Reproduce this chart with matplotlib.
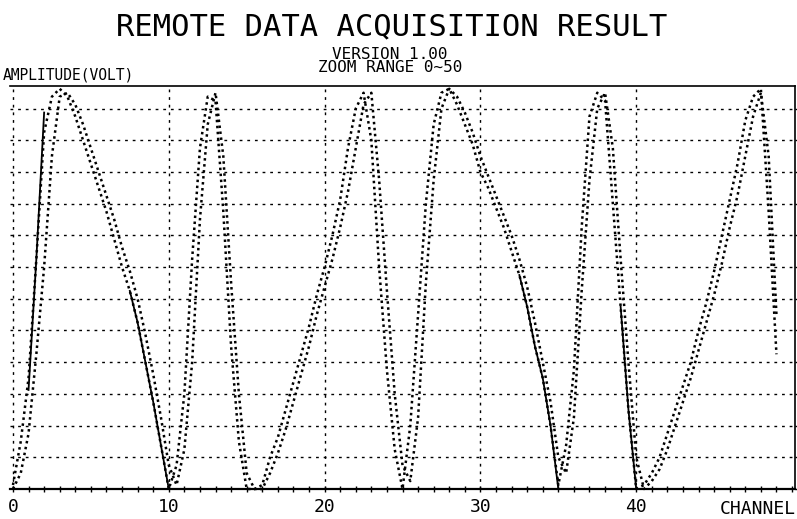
import numpy as np
import matplotlib
matplotlib.use("Agg")
import matplotlib.pyplot as plt
from matplotlib.ticker import MultipleLocator, FixedLocator

# Sample positions (half-channel steps) and the two scanned amplitude traces
channel = np.arange(0, 49.5, 0.5)

trace_a = [
    0.05, 0.6, 1.4, 2.9, 4.5, 4.95, 5.05, 4.95, 4.7, 4.4,
    4.1, 3.8, 3.5, 3.15, 2.8, 2.5, 2.1, 1.6, 1.1, 0.55,
    0.0, 0.3, 1.2, 2.9, 4.3, 4.95, 4.9, 3.5, 1.8, 0.6,
    0.0, 0.0, 0.05, 0.4, 0.65, 1.0, 1.35, 1.7, 2.05, 2.45,
    2.8, 3.2, 3.65, 4.3, 4.8, 5.0, 4.4, 2.8, 1.5, 0.5,
    0.0, 0.8, 2.2, 3.6, 4.6, 5.0, 5.05, 4.85, 4.6, 4.35,
    4.0, 3.8, 3.55, 3.3, 3.0, 2.7, 2.3, 1.8, 1.4, 0.8,
    0.05, 0.55, 1.5, 3.3, 4.7, 5.0, 4.9, 3.6, 2.3, 1.0,
    0.0, 0.05, 0.2, 0.4, 0.7, 1.0, 1.3, 1.6, 2.0, 2.35,
    2.75, 3.2, 3.65, 4.1, 4.65, 4.95, 5.05, 3.5, 1.7,
]

trace_b = [
    0.0, 0.2, 0.7, 1.7, 2.8, 4.2, 4.95, 5.0, 4.85, 4.6,
    4.3, 4.0, 3.7, 3.4, 3.05, 2.75, 2.4, 1.95, 1.45, 0.9,
    0.3, 0.05, 0.5, 1.6, 3.4, 4.6, 5.0, 4.2, 2.6, 1.2,
    0.2, 0.0, 0.0, 0.2, 0.45, 0.75, 1.1, 1.45, 1.8, 2.2,
    2.55, 2.9, 3.3, 3.75, 4.3, 4.85, 5.0, 3.9, 2.5, 1.2,
    0.3, 0.1, 0.9, 2.6, 3.9, 4.8, 5.05, 4.95, 4.75, 4.5,
    4.2, 3.95, 3.7, 3.45, 3.2, 2.9, 2.55, 2.1, 1.6, 1.1,
    0.4, 0.2, 0.9, 2.5, 3.9, 4.8, 5.0, 4.3, 2.9, 1.6,
    0.4, 0.0, 0.1, 0.25, 0.5, 0.8, 1.1, 1.4, 1.75, 2.1,
    2.45, 2.85, 3.3, 3.7, 4.2, 4.7, 5.0, 4.2, 2.2,
]

# Continuous (solid) pen segments of the plotter trace; NaN separates segments
nan = np.nan
solid_channel = [1.0, 1.5, 2.0, nan,
                 7.5, 8.0, 8.5, 9.0, 9.5, 10.0, nan,
                 32.5, 33.0, 33.5, 34.0, 34.5, 35.0, nan,
                 39.0, 39.5, 40.0]
solid_value = [1.25, 2.9, 4.75, nan,
               2.5, 2.1, 1.6, 1.1, 0.55, 0.0, nan,
               2.7, 2.3, 1.8, 1.4, 0.8, 0.0, nan,
               2.3, 1.0, 0.0]

x_ticks = [0, 10, 20, 30, 40]
x_tick_labels = ["0", "10", "20", "30", "40"]

title = "REMOTE DATA ACQUISITION RESULT"
subtitle = "VERSION 1.00\nZOOM RANGE 0~50"
y_label = "AMPLITUDE(VOLT)"
x_label = "CHANNEL"

MONO = "DejaVu Sans Mono"
W, H = 797, 519

fig = plt.figure(figsize=(W / 100, H / 100), dpi=100)
fig.patch.set_facecolor("white")
ax = fig.add_axes([10 / W, 1 - 489 / H, 785 / W, (489 - 86) / H])
ax.set_xlim(-0.19, 50.19)
ax.set_ylim(0, 5.085)

grid_style = dict(color="black", linewidth=1.0, linestyle=(0, (2, 3.5)))

# Horizontal grid every 0.4 V
ax.yaxis.set_major_locator(MultipleLocator(0.4))
ax.grid(axis="y", **grid_style)
ax.tick_params(axis="y", left=False, right=True, labelleft=False,
               direction="out", length=2.5, width=1.0)

# Channel axis: labelled every 10, crossing ticks every channel
ax.xaxis.set_major_locator(FixedLocator(x_ticks))
ax.set_xticklabels(x_tick_labels, fontfamily=MONO, fontsize=13)
ax.xaxis.set_minor_locator(MultipleLocator(1))
ax.grid(axis="x", which="major", **grid_style)
ax.tick_params(axis="x", which="both", direction="inout", length=5,
               width=1.0, pad=4)

for side in ("top", "right"):
    ax.spines[side].set_linewidth(1.2)
ax.spines["bottom"].set_linewidth(1.6)
ax.spines["left"].set_visible(False)

dot_style = (0, (1, 1.4))
ax.plot(channel, trace_a, color="black", linewidth=1.8, linestyle=dot_style,
        clip_on=False)
ax.plot(channel, trace_b, color="black", linewidth=1.8, linestyle=dot_style,
        clip_on=False)
ax.plot(solid_channel, solid_value, color="black", linewidth=1.3,
        clip_on=False)

fig.text(392 / W, 1 - 35 / H, title, fontfamily=MONO, fontsize=22,
         ha="center", va="baseline")
fig.text(390 / W, 1 - 72 / H, subtitle, fontfamily=MONO, fontsize=11.5,
         ha="center", va="baseline", multialignment="center",
         linespacing=0.85)
fig.text(3 / W, 1 - 80 / H, y_label, fontfamily=MONO, fontsize=10.5,
         ha="left", va="baseline")
fig.text(796 / W, 1 - 514 / H, x_label, fontfamily=MONO, fontsize=13,
         ha="right", va="baseline")

fig.savefig("out.png", dpi=100, facecolor="white")
